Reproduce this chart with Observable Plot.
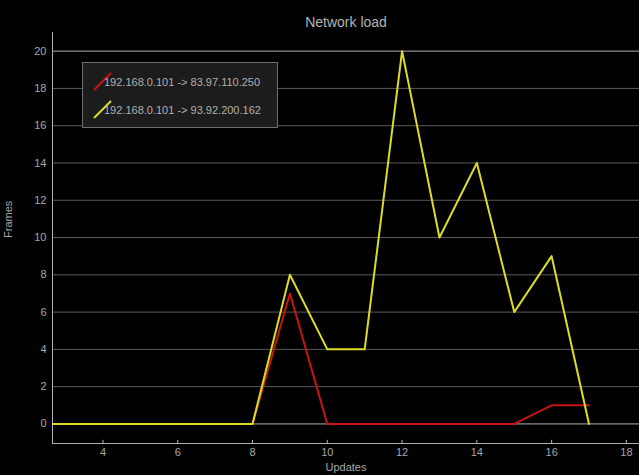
<!DOCTYPE html>
<html>
<head>
<meta charset="utf-8">
<script src="https://cdn.jsdelivr.net/npm/d3@7"></script>
<script src="https://cdn.jsdelivr.net/npm/@observablehq/plot@0.6"></script>
<style>
  html, body { margin: 0; padding: 0; background: #000; }
  #wrap { position: relative; width: 639px; height: 475px; overflow: hidden; }
  #legend { position: absolute; left: 82px; top: 62px; width: 194px; height: 64px;
    background: #1c1c1c; border: 1px solid #6e6e6e; font-family: "Liberation Sans", Arial, sans-serif;
    font-size: 11px; color: #b0b0b0; }
  .item { position: absolute; left: 10px; height: 20px; }
  .item svg { position: absolute; left: 0; top: 0; }
  .item span { position: absolute; left: 11px; top: 4px; white-space: nowrap; }
</style>
</head>
<body>
<div id="wrap"><div id="chart"></div><div id="legend"></div></div>
<script>
const updates = [0,1,2,3,4,5,6,7,8,9,10,11,12,13,14,15,16,17];
const seriesNames = ["192.168.0.101 -> 83.97.110.250", "192.168.0.101 -> 93.92.200.162"];
const seriesColors = ["#c81414", "#dcdc28"];
const redValues    = [0,0,0,0,0,0,0,0,0,7,0,0,0,0,0,0,1,1];
const yellowValues = [0,0,0,0,0,0,0,0,0,8,4,4,20,10,14,6,9,0];
const xTicks = [4,6,8,10,12,14,16,18];
const yTicks = [0,2,4,6,8,10,12,14,16,18,20];

const rows = [];
[redValues, yellowValues].forEach((vals, i) => {
  vals.forEach((v, j) => rows.push({x: updates[j], y: v, s: seriesNames[i]}));
});

const yMin = -1.05, yMax = 21.0;
const font = "'Liberation Sans', Arial, sans-serif";

const chart = Plot.plot({
  width: 639, height: 475,
  marginLeft: 52, marginRight: 0, marginTop: 32, marginBottom: 32,
  style: {background: "#000", color: "#aaa", fontFamily: font, fontSize: "11px"},
  x: {domain: [2.65, 18.35], label: null},
  y: {domain: [yMin, yMax], label: null},
  color: {domain: seriesNames, range: seriesColors},
  marks: [
    Plot.ruleY(yTicks.filter(d => d !== 0 && d !== 20), {stroke: "#5a5a5a", strokeWidth: 1}),
    Plot.ruleY([0, 20], {stroke: "#b0b0b0", strokeWidth: 1}),
    Plot.axisY({ticks: yTicks, tickSize: 0, tickPadding: 6, fill: "#a8a8a8", label: null}),
    Plot.axisX({ticks: xTicks, tickSize: 0, tickPadding: 5, fill: "#a8a8a8", label: null}),
    Plot.ruleX(xTicks, {y1: yMin, y2: yMin + 0.17, stroke: "#b0b0b0"}),
    Plot.frame({anchor: "left", stroke: "#b0b0b0"}),
    Plot.frame({anchor: "bottom", stroke: "#b0b0b0"}),
    Plot.line(rows, {x: "x", y: "y", z: "s", stroke: "s", strokeWidth: 2, clip: true}),
    Plot.text(["Network load"], {frameAnchor: "top", dy: -15, fill: "#b4b4b4", fontSize: 14}),
    Plot.text(["Updates"], {frameAnchor: "bottom", dy: 20, lineAnchor: "top", fill: "#a8a8a8", fontSize: 11}),
    Plot.text(["Frames"], {frameAnchor: "left", dx: -44, rotate: -90, fill: "#a8a8a8", fontSize: 11})
  ]
});
document.getElementById("chart").appendChild(chart);

const legend = document.getElementById("legend");
seriesNames.forEach((name, i) => {
  const item = document.createElement("div");
  item.className = "item";
  item.style.top = (9 + i * 28) + "px";
  item.innerHTML = `<svg width="20" height="20"><line x1="1" y1="18" x2="18" y2="1" stroke="${seriesColors[i]}" stroke-width="2"/></svg><span>${name}</span>`;
  legend.appendChild(item);
});
</script>
</body>
</html>
